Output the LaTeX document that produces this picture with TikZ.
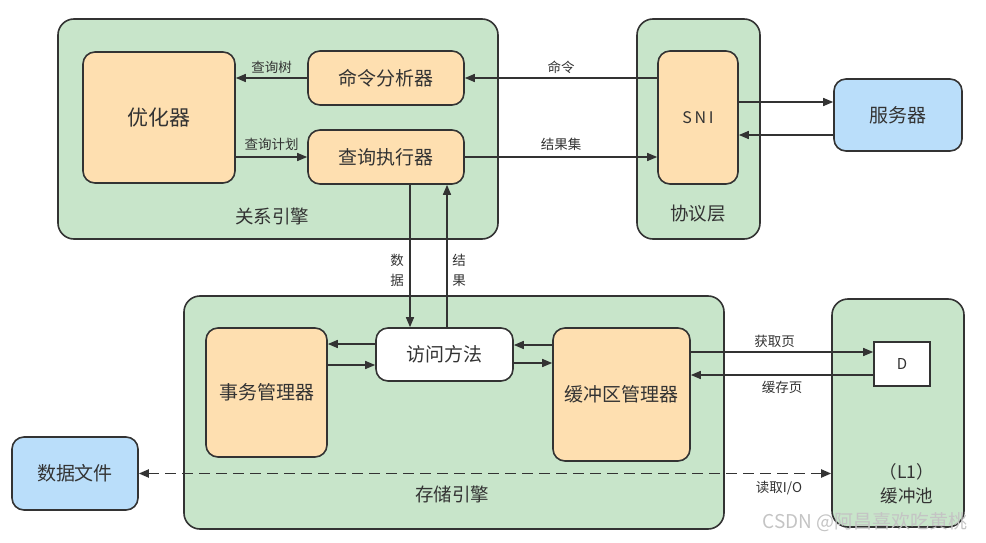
\documentclass[tikz,border=0pt]{standalone}
\usepackage{fontspec}
\setmainfont{Noto Sans CJK SC}
\usetikzlibrary{arrows.meta,calc}
\definecolor{grn}{HTML}{C8E5CA}
\definecolor{org}{HTML}{FEDFB0}
\definecolor{blu}{HTML}{BADEFA}
\definecolor{ln}{HTML}{333333}
\definecolor{wm}{HTML}{C4C4C4}
\tikzset{
  box/.style={draw=ln,line width=1.6pt,rounded corners=12pt,inner sep=0pt,text=ln},
  grnbox/.style={box,fill=grn,rounded corners=16pt},
  orgbox/.style={box,fill=org,font=\fontsize{19}{22}\selectfont},
  blubox/.style={box,fill=blu,font=\fontsize{19}{22}\selectfont},
  whtbox/.style={box,fill=white,font=\fontsize{19}{22}\selectfont},
  arr/.style={draw=ln,line width=1.5pt,-{Triangle[length=10pt,width=8pt]}},
  darr/.style={draw=ln,line width=1.9pt,dash pattern=on 11pt off 6pt,{Triangle[length=10pt,width=8pt]}-{Triangle[length=10pt,width=8pt]}},
  lbl/.style={text=ln,font=\fontsize{13.5}{16}\selectfont,inner sep=1pt},
  big/.style={text=ln,font=\fontsize{18.5}{22}\selectfont,inner sep=0pt},
}
\begin{document}
\begin{tikzpicture}[x=1pt,y=-1pt]
\useasboundingbox (0,0) rectangle (986,543);
% containers
\node[grnbox,minimum width=440pt,minimum height=220pt] (rel) at (278,129) {};
\node[big] (rellbl) at (272,216) {关系引擎};
\node[grnbox,minimum width=123pt,minimum height=220pt] (proto) at (698.5,129) {};
\node[big] (protolbl) at (698,214) {协议层};
\node[grnbox,minimum width=540pt,minimum height=233pt] (store) at (454,412.5) {};
\node[big] (storelbl) at (452,494) {存储引擎};
\node[grnbox,minimum width=132pt,minimum height=228pt] (pool) at (898,413) {};
\node[big,align=center,font=\fontsize{17.5}{24}\selectfont] (poollbl) at (907,484) {（L1）\\缓冲池};
% inner boxes
\node[orgbox,minimum width=152pt,minimum height=131pt,font=\fontsize{21}{24}\selectfont] (opt) at (159,117.5) {优化器};
\node[orgbox,minimum width=156pt,minimum height=54pt] (cmd) at (386,78) {命令分析器};
\node[orgbox,minimum width=156pt,minimum height=54pt] (exe) at (386,157) {查询执行器};
\node[orgbox,minimum width=80pt,minimum height=133pt,font=\fontsize{16}{20}\selectfont] (sni) at (698,117.5) {S\,N\,I};
\node[blubox,minimum width=128pt,minimum height=72pt] (srv) at (898,115) {服务器};
\node[orgbox,minimum width=121pt,minimum height=129pt] (txn) at (266.5,392.5) {事务管理器};
\node[whtbox,minimum width=137pt,minimum height=53pt] (acc) at (444.5,354.5) {访问方法};
\node[orgbox,minimum width=137pt,minimum height=133pt] (buf) at (621.5,394.5) {缓冲区管理器};
\node[draw=ln,line width=1.6pt,fill=white,text=ln,minimum width=56pt,minimum height=44pt,inner sep=0pt,font=\fontsize{15}{18}\selectfont] (pg) at (902,364) {D};
\node[blubox,minimum width=126pt,minimum height=73pt] (file) at (75,473.5) {数据文件};
% connectors
\draw[arr] (cmd.west) -- (opt.east |- cmd.west) node[lbl,midway,above=3pt] (l1) {查询树};
\draw[arr] (opt.east |- exe.west) -- (exe.west) node[lbl,midway,above=5pt] (l2) {查询计划};
\draw[arr] (sni.west |- cmd.east) -- (cmd.east) node[lbl,midway,above=3pt] (l3) {命令};
\draw[arr] (exe.east) -- (sni.west |- exe.east) node[lbl,midway,above=5pt] (l4) {结果集};
\draw[arr] (sni.east |- 0,102) -- (srv.west |- 0,102);
\draw[arr] (srv.west |- 0,135) -- (sni.east |- 0,135);
\coordinate (dx) at (410,0);
\coordinate (rx) at (447,0);
\draw[arr] (exe.south -| dx) -- (acc.north -| dx);
\draw[arr] (acc.north -| rx) -- (exe.south -| rx);
\node[lbl,align=center,font=\fontsize{13.5}{20}\selectfont] (l5) at (397,270) {数\\据};
\node[lbl,align=center,font=\fontsize{13.5}{20}\selectfont] (l6) at (459,270) {结\\果};
\draw[arr] (acc.west |- 0,344) -- (txn.east |- 0,344);
\draw[arr] (txn.east |- 0,365) -- (acc.west |- 0,365);
\draw[arr] (buf.west |- 0,345) -- (acc.east |- 0,345);
\draw[arr] (acc.east |- 0,363) -- (buf.west |- 0,363);
\draw[arr] (buf.east |- 0,352) -- (pg.west |- 0,352) node[lbl,pos=0.46,above=3pt] (l7) {获取页};
\draw[arr] (pg.west |- 0,375) -- (buf.east |- 0,375) node[lbl,pos=0.5,below=4pt] (l8) {缓存页};
\draw[darr] (file.east) -- (pool.west |- file.east);
\node[lbl] (l9) at (779,488) {读取I/O};
\node[text=wm,font=\fontsize{19}{22}\selectfont,inner sep=0pt] (wmk) at (865,522) {CSDN @阿昌喜欢吃黄桃};
\end{tikzpicture}
\end{document}
